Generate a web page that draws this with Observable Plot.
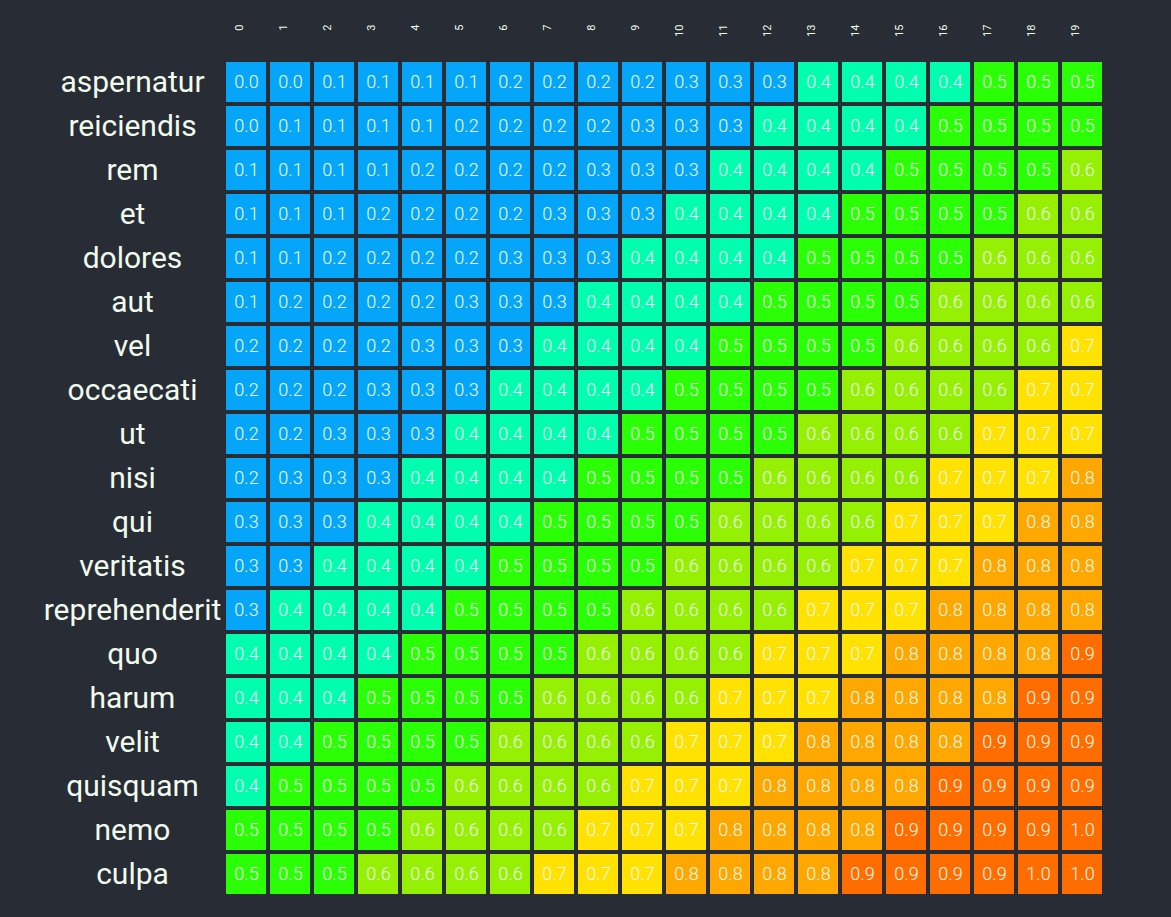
<!DOCTYPE html>
<html>
<head>
<meta charset="utf-8">
<script src="https://cdn.jsdelivr.net/npm/d3@7"></script>
<script src="https://cdn.jsdelivr.net/npm/@observablehq/plot@0.6"></script>
<style>
  html, body { margin: 0; padding: 0; background: #282c34; }
</style>
</head>
<body>
<div id="chart"></div>
<script>
const rows = ["aspernatur", "reiciendis", "rem", "et", "dolores", "aut", "vel", "occaecati", "ut", "nisi", "qui", "veritatis", "reprehenderit", "quo", "harum", "velit", "quisquam", "nemo", "culpa"];
const cols = ["0", "1", "2", "3", "4", "5", "6", "7", "8", "9", "10", "11", "12", "13", "14", "15", "16", "17", "18", "19"];
const values = [
  [0.0,0.0,0.1,0.1,0.1,0.1,0.2,0.2,0.2,0.2,0.3,0.3,0.3,0.4,0.4,0.4,0.4,0.5,0.5,0.5],
  [0.0,0.1,0.1,0.1,0.1,0.2,0.2,0.2,0.2,0.3,0.3,0.3,0.4,0.4,0.4,0.4,0.5,0.5,0.5,0.5],
  [0.1,0.1,0.1,0.1,0.2,0.2,0.2,0.2,0.3,0.3,0.3,0.4,0.4,0.4,0.4,0.5,0.5,0.5,0.5,0.6],
  [0.1,0.1,0.1,0.2,0.2,0.2,0.2,0.3,0.3,0.3,0.4,0.4,0.4,0.4,0.5,0.5,0.5,0.5,0.6,0.6],
  [0.1,0.1,0.2,0.2,0.2,0.2,0.3,0.3,0.3,0.4,0.4,0.4,0.4,0.5,0.5,0.5,0.5,0.6,0.6,0.6],
  [0.1,0.2,0.2,0.2,0.2,0.3,0.3,0.3,0.4,0.4,0.4,0.4,0.5,0.5,0.5,0.5,0.6,0.6,0.6,0.6],
  [0.2,0.2,0.2,0.2,0.3,0.3,0.3,0.4,0.4,0.4,0.4,0.5,0.5,0.5,0.5,0.6,0.6,0.6,0.6,0.7],
  [0.2,0.2,0.2,0.3,0.3,0.3,0.4,0.4,0.4,0.4,0.5,0.5,0.5,0.5,0.6,0.6,0.6,0.6,0.7,0.7],
  [0.2,0.2,0.3,0.3,0.3,0.4,0.4,0.4,0.4,0.5,0.5,0.5,0.5,0.6,0.6,0.6,0.6,0.7,0.7,0.7],
  [0.2,0.3,0.3,0.3,0.4,0.4,0.4,0.4,0.5,0.5,0.5,0.5,0.6,0.6,0.6,0.6,0.7,0.7,0.7,0.8],
  [0.3,0.3,0.3,0.4,0.4,0.4,0.4,0.5,0.5,0.5,0.5,0.6,0.6,0.6,0.6,0.7,0.7,0.7,0.8,0.8],
  [0.3,0.3,0.4,0.4,0.4,0.4,0.5,0.5,0.5,0.5,0.6,0.6,0.6,0.6,0.7,0.7,0.7,0.8,0.8,0.8],
  [0.3,0.4,0.4,0.4,0.4,0.5,0.5,0.5,0.5,0.6,0.6,0.6,0.6,0.7,0.7,0.7,0.8,0.8,0.8,0.8],
  [0.4,0.4,0.4,0.4,0.5,0.5,0.5,0.5,0.6,0.6,0.6,0.6,0.7,0.7,0.7,0.8,0.8,0.8,0.8,0.9],
  [0.4,0.4,0.4,0.5,0.5,0.5,0.5,0.6,0.6,0.6,0.6,0.7,0.7,0.7,0.8,0.8,0.8,0.8,0.9,0.9],
  [0.4,0.4,0.5,0.5,0.5,0.5,0.6,0.6,0.6,0.6,0.7,0.7,0.7,0.8,0.8,0.8,0.8,0.9,0.9,0.9],
  [0.4,0.5,0.5,0.5,0.5,0.6,0.6,0.6,0.6,0.7,0.7,0.7,0.8,0.8,0.8,0.8,0.9,0.9,0.9,0.9],
  [0.5,0.5,0.5,0.5,0.6,0.6,0.6,0.6,0.7,0.7,0.7,0.8,0.8,0.8,0.8,0.9,0.9,0.9,0.9,1.0],
  [0.5,0.5,0.5,0.6,0.6,0.6,0.6,0.7,0.7,0.7,0.8,0.8,0.8,0.8,0.9,0.9,0.9,0.9,1.0,1.0]
];
const colorStops = [0, 0.3, 0.4, 0.5, 0.7, 0.9, 1];
const colorRange = ["#05a6fa", "#05a6fa", "#00feae", "#2bff05", "#ffe102", "#ff6d00", "#ff6d00"];

const data = rows.flatMap((r, i) => cols.map((c, j) => ({row: r, col: c, v: values[i][j]})));
const textColor = "#f0fbee";

const chart = Plot.plot({
  width: 1171,
  height: 917,
  marginLeft: 222,
  marginRight: 65,
  marginTop: 58,
  marginBottom: 19,
  style: {background: "#282c34", color: textColor, fontFamily: "Roboto, sans-serif"},
  x: {domain: cols, padding: 1 / 11, round: false},
  y: {domain: rows, padding: 1 / 11, round: false},
  color: {type: "linear", domain: colorStops, range: colorRange, interpolate: "rgb"},
  marks: [
    Plot.cell(data, {x: "col", y: "row", fill: "v", inset: 0}),
    Plot.text(data, {x: "col", y: "row", text: d => d.v.toFixed(1), fill: textColor, fontSize: 18, fontWeight: 300}),
    Plot.axisX({anchor: "top", label: null, tickSize: 0, tickPadding: 0, rotate: -90, textAnchor: "end", lineAnchor: "middle", fontSize: 11, dy: -34, dx: -7, fill: textColor}),
    Plot.axisY({anchor: "left", label: null, tickSize: 0, tickPadding: 0, textAnchor: "middle", fontSize: 30, dx: -90, fill: textColor})
  ]
});
document.getElementById("chart").append(chart);
</script>
</body>
</html>
